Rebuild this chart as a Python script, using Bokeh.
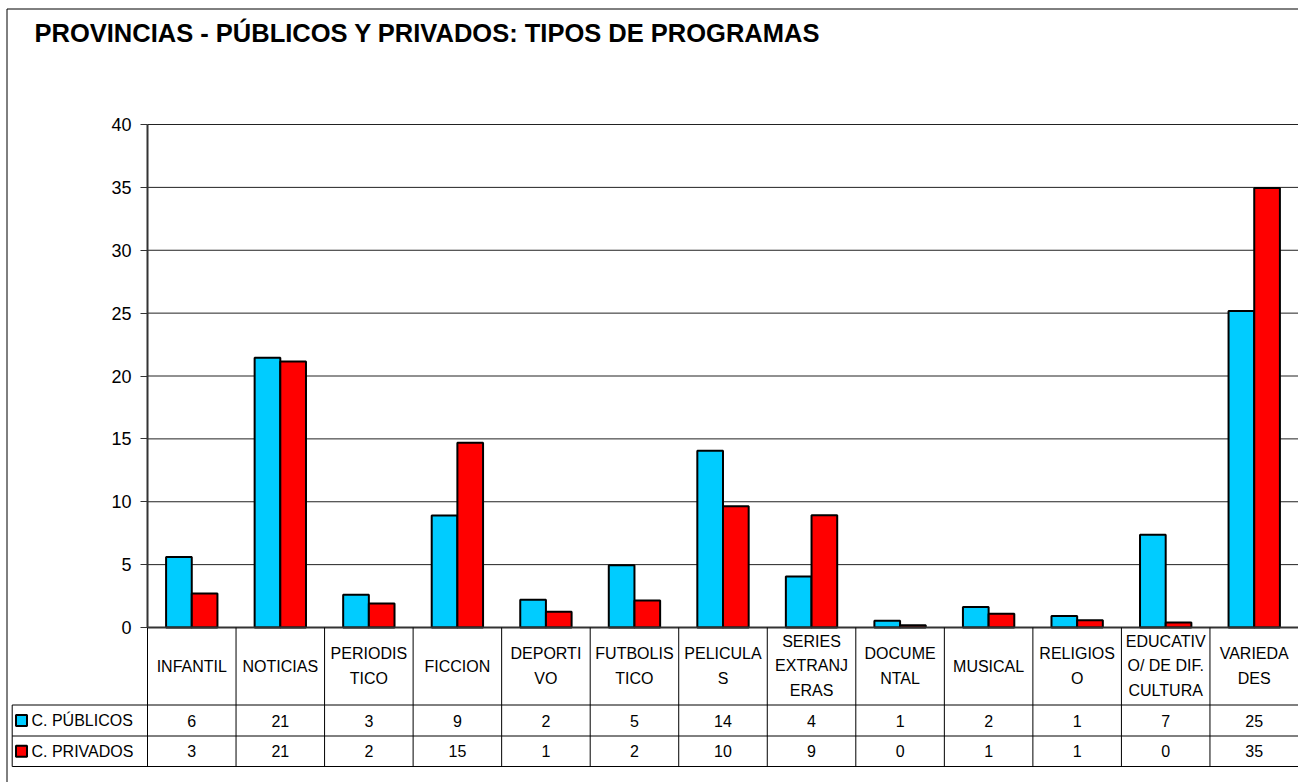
from bokeh.plotting import figure
from bokeh.models import Range1d, LinearAxis, FixedTicker, Label, ColumnDataSource
from bokeh.core.properties import value
from bokeh.embed import file_html
from bokeh.resources import INLINE

# ---------------- data ----------------
title_text = "PROVINCIAS - PÚBLICOS Y PRIVADOS: TIPOS DE PROGRAMAS"
categories = ["INFANTIL", "NOTICIAS", "PERIODIS\nTICO", "FICCION", "DEPORTI\nVO",
              "FUTBOLIS\nTICO", "PELICULA\nS", "SERIES\nEXTRANJ\nERAS", "DOCUME\nNTAL",
              "MUSICAL", "RELIGIOS\nO", "EDUCATIV\nO/ DE DIF.\nCULTURA", "VARIEDA\nDES"]
series_names = ["C. PÚBLICOS", "C. PRIVADOS"]
publicos = [5.6, 21.45, 2.6, 8.9, 2.2, 4.95, 14.05, 4.05, 0.53, 1.64, 0.92, 7.37, 25.16]
privados = [2.7, 21.15, 1.9, 14.7, 1.25, 2.15, 9.65, 8.93, 0.18, 1.1, 0.58, 0.4, 34.95]
publicos_table = [6, 21, 3, 9, 2, 5, 14, 4, 1, 2, 1, 7, 25]
privados_table = [3, 21, 2, 15, 1, 2, 10, 9, 0, 1, 1, 0, 35]
y_ticks = [0, 5, 10, 15, 20, 25, 30, 35, 40]
series_colors = ["#00CCFF", "#FF0000"]

# ---------------- layout helpers (page pixels -> data units) ----------------
W, H = 1298, 782
PAGE = 0
X0_PX = 147.0            # left edge of plot area (category 0 boundary)
ZERO_PX = 627.0          # y = 0
TOP_PX = 124.0           # y = 40
n = len(categories)
cat_w = (PAGE + W - X0_PX) / n
unit = (ZERO_PX - TOP_PX) / y_ticks[-1]


def X(px):
    return (px - X0_PX) / cat_w


def Y(py):
    return (ZERO_PX - py) / unit


FONT = "Liberation Sans"

p = figure(width=W, height=H, output_backend="svg", toolbar_location=None,
           x_range=Range1d(X(PAGE), X(PAGE + W)), y_range=Range1d(Y(PAGE + H), Y(PAGE)),
           x_axis_location=None, y_axis_location=None, title=None,
           min_border=0, outline_line_color=None, background_fill_color="white",
           border_fill_color="white")
p.xgrid.visible = False
p.ygrid.visible = False

# outer border (left and top)
p.segment(x0=[X(6.5), X(6.5)], y0=[Y(8.5), Y(8.5)],
          x1=[X(6.5), X(PAGE + W)], y1=[Y(PAGE + H), Y(8.5)],
          line_color="black", line_width=1)

# horizontal gridlines
grid_vals = y_ticks[1:]
p.segment(x0=[0] * len(grid_vals), x1=[n] * len(grid_vals), y0=grid_vals, y1=grid_vals,
          line_color="#222222", line_width=1)

# bars
xs = [i + 0.5 for i in range(n)]
bw = 0.29
p.vbar(x=[x - bw / 2 for x in xs], top=publicos, width=bw, bottom=0,
       fill_color=series_colors[0], line_color="black", line_width=2)
p.vbar(x=[x + bw / 2 for x in xs], top=privados, width=bw, bottom=0,
       fill_color=series_colors[1], line_color="black", line_width=2)

# x axis line at 0
p.segment(x0=[0], x1=[n], y0=[0], y1=[0], line_color="#333333", line_width=2)

# y axis at x = 0
yax = LinearAxis(fixed_location=0, bounds=(y_ticks[0], y_ticks[-1]),
                 ticker=FixedTicker(ticks=y_ticks))
yax.axis_line_color = "#333333"
yax.axis_line_width = 2
yax.major_tick_line_color = "#333333"
yax.major_tick_line_width = 1
yax.major_tick_out = 7
yax.major_tick_in = 0
yax.minor_tick_line_color = None
yax.major_label_text_font = FONT
yax.major_label_text_font_size = "18px"
yax.major_label_text_color = "black"
yax.major_label_standoff = 9
p.add_layout(yax, "left")

# ---------------- data table below the chart ----------------
row_top = Y(704.5)
row_mid = Y(735.5)
row_bot = Y(766.0)
table_left = X(11.7)

# vertical lines at category boundaries
bounds = list(range(n + 1))
p.segment(x0=bounds, x1=bounds, y0=[0] * len(bounds), y1=[row_bot] * len(bounds),
          line_color="black", line_width=1)
# vertical line on the left of the legend column
p.segment(x0=[table_left], x1=[table_left], y0=[row_top], y1=[row_bot],
          line_color="black", line_width=1)
# horizontal table lines
p.segment(x0=[table_left] * 3, x1=[n] * 3, y0=[row_top, row_mid, row_bot],
          y1=[row_top, row_mid, row_bot], line_color="black", line_width=1)

# category labels
p.text(x=xs, y=[Y(665.5)] * n, text=categories, text_align="center",
       text_baseline="middle", text_font=value(FONT), text_font_size="16px",
       text_color="black", text_line_height=1.45)

# table values
r1 = (row_top + row_mid) / 2
r2 = (row_mid + row_bot) / 2
p.text(x=xs, y=[r1] * n, text=[str(v) for v in publicos_table], text_align="center",
       text_baseline="middle", text_font=value(FONT), text_font_size="16px",
       text_color="black")
p.text(x=xs, y=[r2] * n, text=[str(v) for v in privados_table], text_align="center",
       text_baseline="middle", text_font=value(FONT), text_font_size="16px",
       text_color="black")

# legend keys + series names
p.scatter(x=[X(21)] * 2, y=[r1, r2], marker="square", size=11,
          fill_color=series_colors, line_color="black", line_width=2)
p.text(x=[X(31)] * 2, y=[r1, r2], text=series_names, text_align="left",
       text_baseline="middle", text_font=value(FONT), text_font_size="16px",
       text_color="black")

# title
p.add_layout(Label(x=X(34), y=Y(32), text=title_text, text_font=FONT,
                   text_font_size="25.5px", text_font_style="bold",
                   text_baseline="middle", text_align="left", text_color="black"))

open("out.html", "w").write(file_html(p, INLINE))
